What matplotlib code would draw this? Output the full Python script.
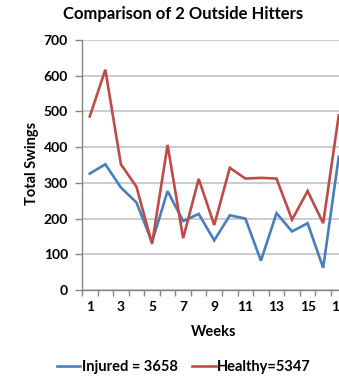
import matplotlib
matplotlib.use("Agg")
import matplotlib.pyplot as plt
from matplotlib.ticker import MultipleLocator, FixedLocator

weeks = list(range(1, 18))
injured = [326, 352, 287, 245, 134, 277, 193, 213, 139, 209, 200, 82, 215, 164, 187, 62, 373]
healthy = [486, 617, 352, 289, 129, 406, 145, 311, 182, 342, 312, 314, 312, 197, 277, 187, 489]
injured_label = "Injured = 3658"
healthy_label = "Healthy=5347"
title = "Comparison of 2 Outside Hitters"
x_tick_labels = [str(w) for w in weeks[::2]]

plt.rcParams["font.family"] = ["Lato", "DejaVu Sans"]
plt.rcParams["font.weight"] = "bold"

fig = plt.figure(figsize=(3.39, 3.77), dpi=100)
W, H = 339, 377
left, right, top, bottom = 82, 82 + 17 * 15.56, 40, 290
ax = fig.add_axes([left / W, (H - bottom) / H, (right - left) / W, (bottom - top) / H])

blue = "#4A7EBB"
red = "#BE4B48"
l1, = ax.plot(weeks, injured, color=blue, lw=1.9, solid_joinstyle="miter")
l2, = ax.plot(weeks, healthy, color=red, lw=1.9, solid_joinstyle="miter")

ax.set_xlim(0.5, 17.5)
ax.set_ylim(0, 700)
ax.yaxis.set_major_locator(MultipleLocator(100))
ax.grid(axis="y", color="#BFBFBF", lw=1.1)
ax.set_axisbelow(True)

ax.set_xticks(weeks[::2])
ax.set_xticklabels(x_tick_labels, fontsize=10, fontweight="bold")
ax.xaxis.set_minor_locator(FixedLocator([w + 0.5 for w in range(0, 18)]))
ax.tick_params(axis="x", which="major", length=0, pad=8)
ax.tick_params(axis="x", which="minor", length=4, color="#868686", width=1)
ax.tick_params(axis="y", length=5, color="#868686", width=1, labelsize=10, pad=5)
for lab in ax.get_yticklabels():
    lab.set_fontweight("bold")

for s in ["top", "right"]:
    ax.spines[s].set_visible(False)
for s in ["left", "bottom"]:
    ax.spines[s].set_color("#868686")
    ax.spines[s].set_linewidth(1)

fig.text(32 / W, 1 - 163 / H, "Total Swings", rotation=90, ha="center", va="center",
         fontsize=10.5, fontweight="bold")
fig.text(214 / W, 1 - 332 / H, "Weeks", ha="center", va="center", fontsize=10.5, fontweight="bold")
fig.text(183 / W, 1 - 14 / H, title, ha="center", va="center", fontsize=12, fontweight="bold")

fig.legend([l1, l2], [injured_label, healthy_label], loc="center", bbox_to_anchor=(184 / W, 1 - 367 / H),
           ncol=2, frameon=False, handlelength=1.6, handletextpad=0.1, columnspacing=1.0,
           prop={"size": 10.5, "weight": "bold"})

fig.savefig("out.png", dpi=100)
